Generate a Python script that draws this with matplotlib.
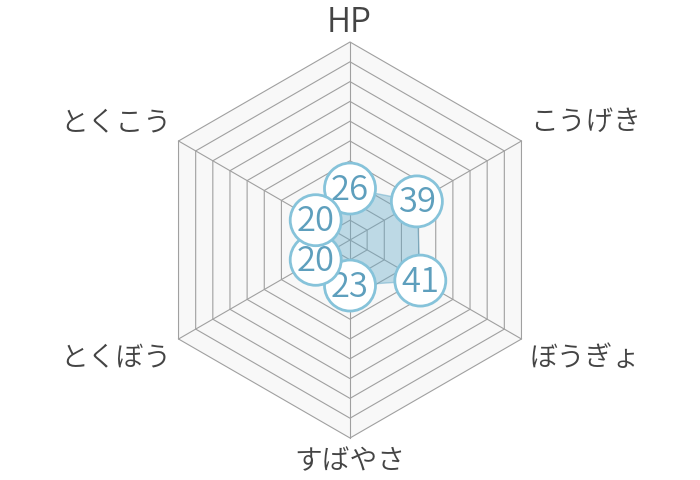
import numpy as np
import matplotlib
matplotlib.use("Agg")
import matplotlib.pyplot as plt
from matplotlib.patches import Polygon, Circle

plt.rcParams['font.family'] = ['Noto Sans CJK JP', 'DejaVu Sans']

categories = ["HP", "こうげき", "ぼうぎょ", "すばやさ", "とくぼう", "とくこう"]
values = [26, 39, 41, 23, 20, 20]
max_value = 100
n_rings = 10

W, H = 700, 480
cx, cy, R = 350, 240, 198

fig = plt.figure(figsize=(W / 100, H / 100), dpi=100)
ax = fig.add_axes([0, 0, 1, 1])
ax.set_xlim(0, W)
ax.set_ylim(H, 0)
ax.axis('off')

n = len(categories)
angles = np.array([np.pi / 2 - 2 * np.pi * i / n for i in range(n)])

def pt(r, a):
    return cx + r * np.cos(a), cy - r * np.sin(a)

# background hexagon
outer = [pt(R, a) for a in angles]
ax.add_patch(Polygon(outer, closed=True, facecolor='#f8f8f8', edgecolor='none', zorder=1))

# rings
for k in range(1, n_rings + 1):
    r = R * k / n_rings
    ring = [pt(r, a) for a in angles]
    ax.add_patch(Polygon(ring, closed=True, facecolor='none', edgecolor='#a0a0a0', lw=0.8, zorder=2))

# spokes
for a in angles:
    x, y = pt(R, a)
    ax.plot([cx, x], [cy, y], color='#a0a0a0', lw=0.8, zorder=2)

# data polygon
data_pts = [pt(R * v / max_value, a) for v, a in zip(values, angles)]
ax.add_patch(Polygon(data_pts, closed=True, facecolor=(0.40, 0.67, 0.79, 0.40),
                     edgecolor=(0.40, 0.67, 0.79, 0.5), lw=1.0, zorder=3))

# value markers
for i, ((x, y), v) in enumerate(zip(data_pts, values)):
    ax.add_patch(Circle((x, y), 25.5, facecolor='white', edgecolor='#86c3da', lw=2.0, zorder=4 + i * 0.1))
    ax.text(x, y + 1.5, str(v), ha='center', va='center', fontsize=25, color='#5e9fbd',
            zorder=4.05 + i * 0.1, fontweight=350)

# category labels
label_pos = [
    (349, 22, 'center'),
    (530, 122, 'left'),
    (530, 358, 'left'),
    (350, 461, 'center'),
    (171, 358, 'right'),
    (171, 122, 'right'),
]
sizes = [24, 20, 20, 20, 20, 20]
for name, (x, y, ha), fs in zip(categories, label_pos, sizes):
    ax.text(x, y, name, ha=ha, va='center', fontsize=fs, color='#444444', fontweight=350)

fig.savefig('out.png', dpi=100)
